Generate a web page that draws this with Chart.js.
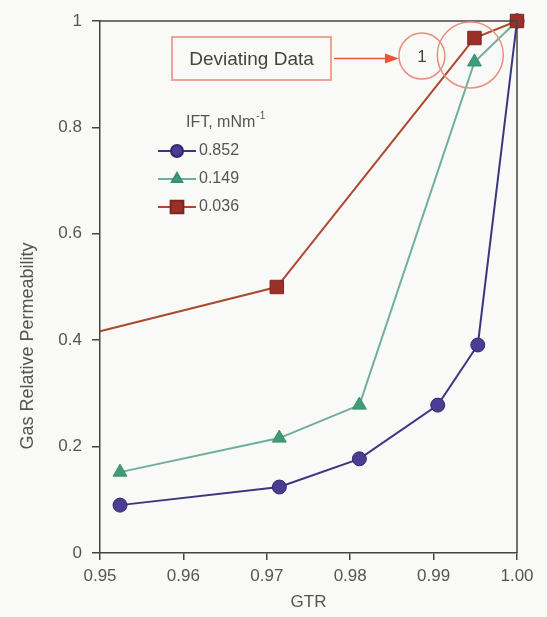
<!DOCTYPE html>
<html>
<head>
<meta charset="utf-8">
<script src="https://cdn.jsdelivr.net/npm/chart.js"></script>
<style>
  html, body { margin: 0; padding: 0; background: #f9f9f7; }
  #wrap { width: 547px; height: 617px; }
</style>
</head>
<body>
<div id="wrap"><canvas id="krgChart" width="547" height="617"></canvas></div>
<script>
// gas relative permeability vs GTR, three IFT levels

const gtr852 = [0.9524, 0.9715, 0.9811, 0.9905, 0.9953, 1.0];
const krg852 = [0.090, 0.124, 0.177, 0.278, 0.391, 1.0];

const gtr149 = [0.9524, 0.9715, 0.9811, 0.9949, 1.0];
const krg149 = [0.152, 0.216, 0.278, 0.923, 1.0];

const gtr036 = [0.9500, 0.9712, 0.9949, 1.0];
const krg036 = [0.417, 0.500, 0.968, 1.0];

const iftLabels = ['0.852', '0.149', '0.036'];
const xTicks = [0.95, 0.96, 0.97, 0.98, 0.99, 1.00];
const yTicks = [0, 0.2, 0.4, 0.6, 0.8, 1];

const TXT = '#555';
const AXIS = '#444';
const FONT = "'Liberation Sans', Arial, sans-serif";

function pts(xs, ys) {
  return xs.map((x, i) => ({ x: x, y: ys[i] }));
}

// top + right edge of the plot box
const frame = {
  id: 'frame',
  afterDraw(chart) {
    const a = chart.chartArea, ctx = chart.ctx;
    ctx.save();
    ctx.strokeStyle = AXIS;
    ctx.lineWidth = 1.5;
    ctx.beginPath();
    ctx.moveTo(a.left, a.top);
    ctx.lineTo(a.right, a.top);
    ctx.lineTo(a.right, a.bottom);
    ctx.stroke();
    ctx.restore();
  }
};

// y title sits a bit lower than the axis centre in the original
const yTitle = {
  id: 'yTitle',
  afterDraw(chart) {
    const ctx = chart.ctx;
    ctx.save();
    ctx.translate(28, 346);
    ctx.rotate(-Math.PI / 2);
    ctx.fillStyle = TXT;
    ctx.font = '18px ' + FONT;
    ctx.textAlign = 'center';
    ctx.textBaseline = 'middle';
    ctx.fillText('Gas Relative Permeability', 0, 0);
    ctx.restore();
  }
};

// legend block inside the plot
const iftLegend = {
  id: 'iftLegend',
  afterDraw(chart) {
    const ctx = chart.ctx;
    const x0 = 158, x1 = 196, lx = 199, y0 = 123, dy = 28;
    ctx.save();
    ctx.fillStyle = TXT;
    ctx.font = '16px ' + FONT;
    ctx.textBaseline = 'middle';
    ctx.textAlign = 'left';
    ctx.fillText('IFT, mNm', 186, y0);
    const w = ctx.measureText('IFT, mNm').width;
    ctx.font = '10px ' + FONT;
    ctx.fillText('-1', 186 + w + 1, y0 - 7);
    chart.data.datasets.forEach((ds, i) => {
      const y = y0 + dy * (i + 1);
      ctx.strokeStyle = ds.borderColor;
      ctx.lineWidth = ds.borderWidth;
      ctx.beginPath();
      ctx.moveTo(x0, y);
      ctx.lineTo(x1, y);
      ctx.stroke();
      ctx.fillStyle = ds.pointBackgroundColor;
      ctx.strokeStyle = ds.pointBorderColor;
      Chart.helpers.drawPoint(ctx, {
        pointStyle: ds.pointStyle, radius: ds.legendRadius,
        rotation: 0, borderWidth: 1
      }, (x0 + x1) / 2, y);
      ctx.fillStyle = TXT;
      ctx.font = '16px ' + FONT;
      ctx.fillText(ds.label, lx, y);
    });
    ctx.restore();
  }
};

// "Deviating Data" call-out
const callout = {
  id: 'callout',
  afterDraw(chart) {
    const ctx = chart.ctx, xs = chart.scales.x, ys = chart.scales.y;
    const bx = xs.getPixelForValue(0.9944), by = ys.getPixelForValue(0.936);
    const sx = xs.getPixelForValue(0.9886), sy = ys.getPixelForValue(0.934);
    ctx.save();
    ctx.strokeStyle = '#e88f7c';
    ctx.lineWidth = 1.5;
    ctx.beginPath();
    ctx.arc(bx, by, 33, 0, Math.PI * 2);
    ctx.stroke();
    ctx.beginPath();
    ctx.arc(sx, sy, 23, 0, Math.PI * 2);
    ctx.stroke();
    ctx.fillStyle = '#444';
    ctx.font = '17px ' + FONT;
    ctx.textAlign = 'center';
    ctx.textBaseline = 'middle';
    ctx.fillText('1', sx, sy + 1);

    // box
    const L = 172, R = 331, T = 37, B = 80;
    ctx.strokeStyle = '#eaa597';
    ctx.lineWidth = 2;
    ctx.strokeRect(L, T, R - L, B - T);
    ctx.fillStyle = '#444';
    ctx.font = '19px ' + FONT;
    ctx.fillText('Deviating Data', (L + R) / 2, (T + B) / 2 + 1);

    // arrow
    const ay = (T + B) / 2, ax0 = R + 3, ax1 = sx - 23;
    ctx.strokeStyle = '#e8573a';
    ctx.fillStyle = '#e8573a';
    ctx.lineWidth = 1.5;
    ctx.beginPath();
    ctx.moveTo(ax0, ay);
    ctx.lineTo(ax1 - 10, ay);
    ctx.stroke();
    ctx.beginPath();
    ctx.moveTo(ax1, ay);
    ctx.lineTo(ax1 - 14, ay - 5);
    ctx.lineTo(ax1 - 14, ay + 5);
    ctx.closePath();
    ctx.fill();
    ctx.restore();
  }
};

document.addEventListener('DOMContentLoaded', () => {
  const ctx = document.getElementById('krgChart').getContext('2d');

  const data = {
    datasets: [{
      label: iftLabels[0],
      data: pts(gtr852, krg852),
      order: 3,
      borderColor: '#3b367f',
      borderWidth: 2,
      pointStyle: 'circle',
      pointRadius: 7,
      legendRadius: 6,
      pointBackgroundColor: '#4a3d92',
      pointBorderColor: '#2f2a6b',
      pointBorderWidth: 1,
      clip: false
    }, {
      label: iftLabels[1],
      data: pts(gtr149, krg149),
      order: 2,
      borderColor: '#6fae9c',
      borderWidth: 2,
      pointStyle: 'triangle',
      pointRadius: 8,
      legendRadius: 6,
      pointBackgroundColor: '#3f9c7a',
      pointBorderColor: '#3a8c70',
      pointBorderWidth: 1,
      clip: false
    }, {
      label: iftLabels[2],
      data: pts(gtr036, krg036),
      order: 1,
      borderColor: '#ac4a30',
      borderWidth: 2,
      pointStyle: 'rect',
      // first point is only where the line enters the plot, no marker
      pointRadius: c => c.dataIndex === 0 ? 0 : 9.5,
      legendRadius: 9,
      pointBackgroundColor: '#9b3029',
      pointBorderColor: '#7c2620',
      pointBorderWidth: 1,
      clip: false
    }]
  };

  const config = {
    type: 'line',
    data: data,
    options: {
      responsive: false,
      animation: false,
      events: [],
      layout: { padding: { top: 21, right: 30, left: 0, bottom: 0 } },
      plugins: {
        legend: { display: false },
        tooltip: { enabled: false }
      },
      scales: {
        x: {
          type: 'linear',
          min: 0.95,
          max: 1.0,
          afterFit: s => { s.height = 64; },
          afterBuildTicks: s => { s.ticks = xTicks.map(v => ({ value: v })); },
          ticks: {
            color: TXT,
            font: { family: FONT, size: 17 },
            padding: 6,
            maxRotation: 0,
            callback: v => v.toFixed(2)
          },
          grid: { drawOnChartArea: false, drawTicks: true, tickLength: 7, color: AXIS, lineWidth: 1.5 },
          border: { color: AXIS, width: 1.5 },
          title: {
            display: true, text: 'GTR', color: TXT,
            font: { family: FONT, size: 17 }, padding: { top: 1 }
          }
        },
        y: {
          min: 0,
          max: 1,
          afterFit: s => { s.width = 100; },
          afterBuildTicks: s => { s.ticks = yTicks.map(v => ({ value: v })); },
          ticks: {
            color: TXT,
            font: { family: FONT, size: 17 },
            padding: 10,
            callback: v => String(v)
          },
          grid: { drawOnChartArea: false, drawTicks: true, tickLength: 8, color: AXIS, lineWidth: 1.5 },
          border: { color: AXIS, width: 1.5 }
        }
      }
    },
    plugins: [frame, yTitle, iftLegend, callout]
  };

  new Chart(ctx, config);
});
</script>
</body>
</html>
